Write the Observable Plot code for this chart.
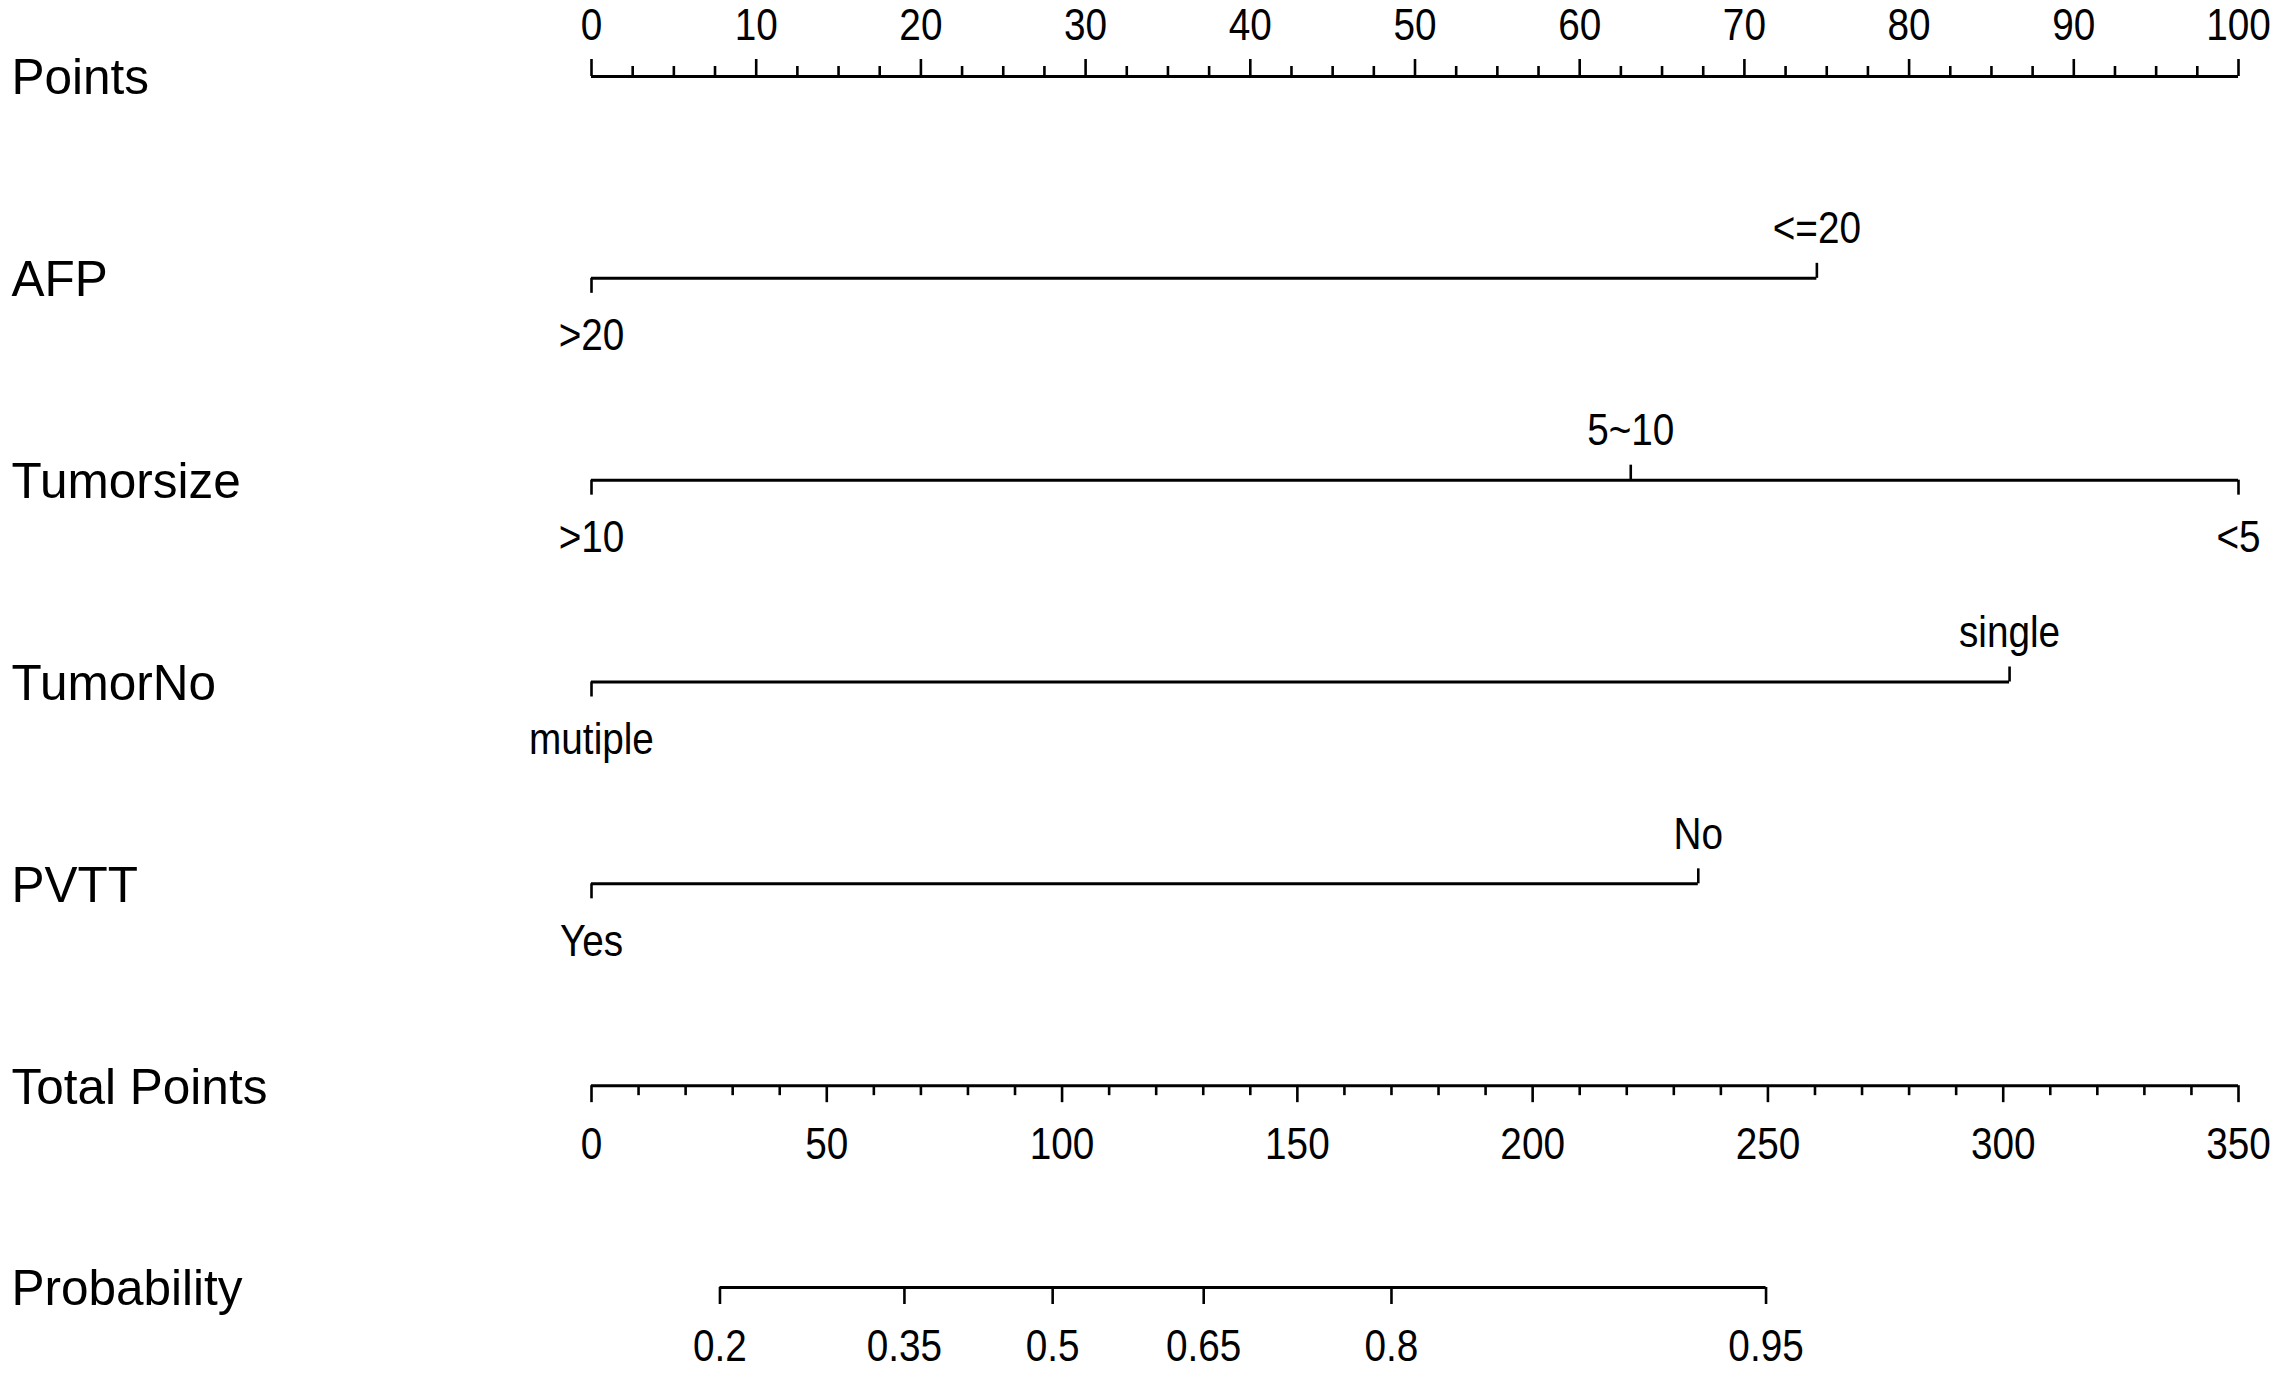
<!DOCTYPE html>
<html>
<head>
<meta charset="utf-8">
<script src="https://cdn.jsdelivr.net/npm/d3@7"></script>
<script src="https://cdn.jsdelivr.net/npm/@observablehq/plot@0.6"></script>
<style>
  html, body { margin: 0; padding: 0; background: #ffffff; }
  #chart svg { display: block; }
</style>
</head>
<body>
<div id="chart"></div>
<script>
// ---------- data ----------
const rowNames = ["Points", "AFP", "Tumorsize", "TumorNo", "PVTT", "Total Points", "Probability"];

// Points scale
const pointsTickLabels = [0, 10, 20, 30, 40, 50, 60, 70, 80, 90, 100];
const pointsMinorStep = 2.5;

// categorical predictors: level names, points, label side
const afpLevels = [">20", "<=20"];
const afpPoints = [0, 74.4];
const afpSide = ["below", "above"];

const tumorsizeLevels = [">10", "5~10", "<5"];
const tumorsizePoints = [0, 63.1, 100];
const tumorsizeSide = ["below", "above", "below"];

const tumorNoLevels = ["mutiple", "single"];
const tumorNoPoints = [0, 86.1];
const tumorNoSide = ["below", "above"];

const pvttLevels = ["Yes", "No"];
const pvttPoints = [0, 67.2];
const pvttSide = ["below", "above"];

// Total points scale
const totalTickLabels = [0, 50, 100, 150, 200, 250, 300, 350];
const totalMinorStep = 10;
const totalMax = 350;

// Probability scale (label, position in total points)
const probLabels = ["0.2", "0.35", "0.5", "0.65", "0.8", "0.95"];
const probTotalPoints = [27.3, 66.5, 98.0, 130.1, 170.0, 249.6];

// ---------- build tables ----------
const predictors = [
  {row: 1, levels: afpLevels, pts: afpPoints, side: afpSide},
  {row: 2, levels: tumorsizeLevels, pts: tumorsizePoints, side: tumorsizeSide},
  {row: 3, levels: tumorNoLevels, pts: tumorNoPoints, side: tumorNoSide},
  {row: 4, levels: pvttLevels, pts: pvttPoints, side: pvttSide}
];
const levelTable = predictors.flatMap(p =>
  p.levels.map((name, i) => ({row: p.row, name, x: p.pts[i], side: p.side[i]})));
const predictorLines = predictors.map(p => ({row: p.row, x1: d3.min(p.pts), x2: d3.max(p.pts)}));

const toPts = t => t * 100 / totalMax; // total-points -> points units (shared x scale)

const pointsMinor = d3.range(0, 100 + 1e-9, pointsMinorStep).filter(v => !pointsTickLabels.includes(v));
const totalMinor = d3.range(0, totalMax + 1e-9, totalMinorStep).filter(v => !totalTickLabels.includes(v));
const probTable = probLabels.map((label, i) => ({label, x: toPts(probTotalPoints[i])}));

// ---------- style ----------
const labelFont = "'Liberation Sans', Arial, sans-serif";
const tickFont = "'Liberation Sans Narrow', 'Arial Narrow', 'Liberation Sans', Arial, sans-serif";
const tickSize = 44;
const lineW = 3;
const tickW = 2.6;
const majorLen = 17, minorLen = 10, levelLen = 15;

const chart = Plot.plot({
  width: 2279,
  height: 1373,
  marginLeft: 0, marginRight: 0, marginTop: 0, marginBottom: 0,
  x: {domain: [0, 100], range: [591, 2238], axis: null},
  y: {domain: [0, 6], range: [76, 1287], axis: null},
  style: {background: "#ffffff", color: "#000000", fontFamily: labelFont},
  marks: [
    // row labels
    Plot.text(rowNames, {
      y: (d, i) => i, text: d => d, frameAnchor: "left", dx: 11,
      textAnchor: "start", lineAnchor: "middle", dy: 2,
      fontSize: 49.5, fontFamily: labelFont, fill: "#000"
    }),

    // Points axis
    Plot.ruleY([0], {x1: 0, x2: 100, strokeWidth: lineW, stroke: "#000"}),
    Plot.ruleX(pointsTickLabels, {x: d => d, y1: 0, y2: 0, insetTop: -majorLen, strokeWidth: tickW, stroke: "#000"}),
    Plot.ruleX(pointsMinor, {x: d => d, y1: 0, y2: 0, insetTop: -minorLen, strokeWidth: tickW, stroke: "#000"}),
    Plot.text(pointsTickLabels, {x: d => d, y: 0, text: d => String(d), dy: -51, lineAnchor: "middle",
      fontSize: tickSize, fontFamily: tickFont, fill: "#000"}),

    // predictor lines
    Plot.ruleY(predictorLines, {y: "row", x1: "x1", x2: "x2", strokeWidth: lineW, stroke: "#000"}),
    Plot.ruleX(levelTable.filter(d => d.side === "above"), {x: "x", y1: "row", y2: "row", insetTop: -levelLen, strokeWidth: tickW, stroke: "#000"}),
    Plot.ruleX(levelTable.filter(d => d.side === "below"), {x: "x", y1: "row", y2: "row", insetBottom: -levelLen, strokeWidth: tickW, stroke: "#000"}),
    Plot.text(levelTable.filter(d => d.side === "above"), {x: "x", y: "row", text: "name", dy: -49, lineAnchor: "middle",
      fontSize: tickSize, fontFamily: tickFont, fill: "#000"}),
    Plot.text(levelTable.filter(d => d.side === "below"), {x: "x", y: "row", text: "name", dy: 58, lineAnchor: "middle",
      fontSize: tickSize, fontFamily: tickFont, fill: "#000"}),

    // Total points axis
    Plot.ruleY([5], {x1: toPts(0), x2: toPts(totalMax), strokeWidth: lineW, stroke: "#000"}),
    Plot.ruleX(totalTickLabels, {x: d => toPts(d), y1: 5, y2: 5, insetBottom: -majorLen, strokeWidth: tickW, stroke: "#000"}),
    Plot.ruleX(totalMinor, {x: d => toPts(d), y1: 5, y2: 5, insetBottom: -minorLen, strokeWidth: tickW, stroke: "#000"}),
    Plot.text(totalTickLabels, {x: d => toPts(d), y: 5, text: d => String(d), dy: 59, lineAnchor: "middle",
      fontSize: tickSize, fontFamily: tickFont, fill: "#000"}),

    // Probability axis
    Plot.ruleY([6], {x1: d3.min(probTable, d => d.x), x2: d3.max(probTable, d => d.x), strokeWidth: lineW, stroke: "#000"}),
    Plot.ruleX(probTable, {x: "x", y1: 6, y2: 6, insetBottom: -majorLen, strokeWidth: tickW, stroke: "#000"}),
    Plot.text(probTable, {x: "x", y: 6, text: "label", dy: 59, lineAnchor: "middle",
      fontSize: tickSize, fontFamily: tickFont, fill: "#000"})
  ]
});

// condense the tick/level labels horizontally, as in the reference's narrow font
d3.select(chart).selectAll("g[font-family*='Narrow'] text").each(function () {
  const t = this.getAttribute("transform") || "";
  this.setAttribute("transform", (t + " scale(0.88,1)").trim());
});

document.getElementById("chart").appendChild(chart);
</script>
</body>
</html>
